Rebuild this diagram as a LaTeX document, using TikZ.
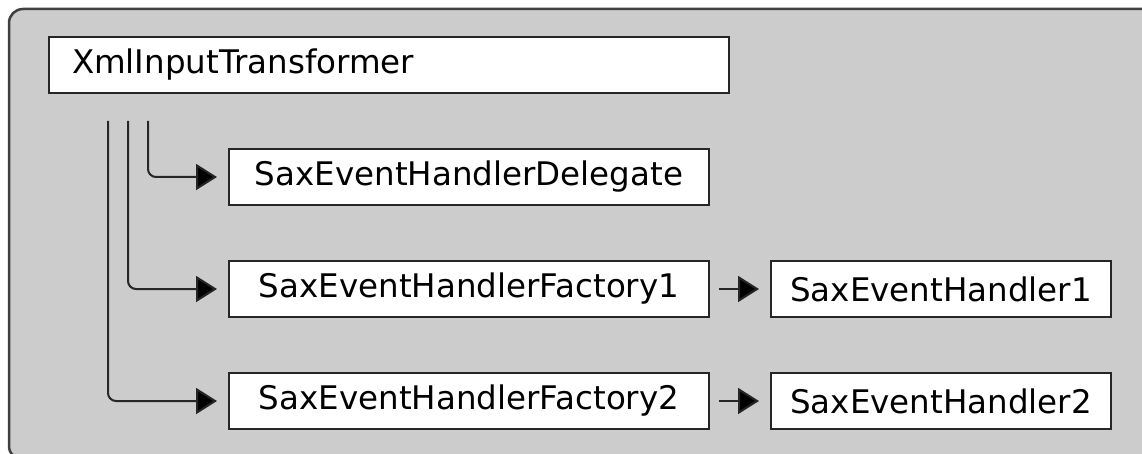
\documentclass[tikz,border=0pt]{standalone}
\usepackage{fontspec}
\setmainfont{DejaVu Sans}
\usetikzlibrary{arrows.meta,positioning}
\tikzstyle{box}=[draw=black!85,fill=white,text=black,line width=2pt,minimum height=56pt,inner sep=0pt,font=\fontsize{32.5}{38}\selectfont]
\tikzstyle{post}=[-{Triangle[length=21pt,width=26pt,fill=black]},line width=2pt,draw=black!85,rounded corners=8pt]
\begin{document}
\begin{tikzpicture}[x=1pt,y=-1pt]
    \useasboundingbox (0,0) rectangle (1142,454);
    \begin{scope}
    \clip (0,0) rectangle (1142,454);
    \draw[fill=black!20,draw=black!75,line width=2.5pt,rounded corners=14pt] (1300,9) -- (9,9) -- (9,460) -- (1300,460);
    \end{scope}

    \node (xml) [box, minimum width=680pt, text width=634pt, align=left] at (389,65) {XmlInputTransformer};
    \node (del) [box, minimum width=480pt] at (469,177) {SaxEventHandlerDelegate};
    \node (fac1) [box, minimum width=480pt] at (469,289) {SaxEventHandlerFactory1};
    \node (fac2) [box, minimum width=480pt] at (469,401) {SaxEventHandlerFactory2};
    \node (hnd1) [box, minimum width=340pt] [right=60pt of fac1] {SaxEventHandler1};
    \node (hnd2) [box, minimum width=340pt] [right=60pt of fac2] {SaxEventHandler2};

    \draw[post, shorten <=27pt, shorten >=11pt] ([xshift=100pt]xml.south west) |- (del);
    \draw[post, shorten <=27pt, shorten >=11pt] ([xshift=80pt]xml.south west) |- (fac1);
    \draw[post, shorten <=27pt, shorten >=11pt] ([xshift=60pt]xml.south west) |- (fac2);

    \draw[post, shorten <=9pt, shorten >=11pt] (fac1) -- (hnd1);
    \draw[post, shorten <=9pt, shorten >=11pt] (fac2) -- (hnd2);
\end{tikzpicture}
\end{document}
